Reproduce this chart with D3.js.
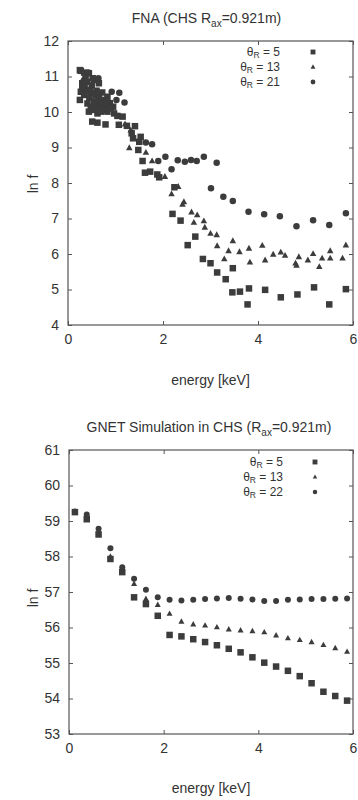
<!DOCTYPE html>
<html><head><meta charset="utf-8">
<script src="https://cdn.jsdelivr.net/npm/d3@7"></script>
<style>
body{margin:0;background:#fff;}
svg{display:block;}
text{font-family:"Liberation Sans",Arial,sans-serif;fill:#333;}
</style></head>
<body><svg id="c" width="358" height="800"></svg>
<script>
// ---------- data: top panel (FNA measurement) ----------
const fnaSquares = [[0.25,11.18],[0.27,11.16],[0.34,11.11],[0.44,11.09],[0.37,10.95],[0.52,10.95],[0.55,10.90],[0.40,10.85],[0.65,10.81],[0.30,10.81],[0.50,10.75],[0.35,10.71],[0.30,10.65],[0.38,10.60],[0.60,10.60],[0.27,10.57],[0.72,10.55],[0.34,10.48],[0.46,10.62],[0.51,10.53],[0.58,10.48],[0.65,10.43],[0.45,10.40],[0.25,10.34],[0.55,10.30],[0.41,10.24],[0.88,10.25],[0.48,10.15],[0.62,10.15],[0.70,10.15],[0.95,10.15],[0.58,10.20],[0.69,10.29],[0.76,10.34],[0.83,10.43],[0.81,10.20],[0.55,10.06],[0.62,9.96],[0.69,10.01],[0.76,10.06],[0.83,10.01],[0.44,10.01],[0.90,10.10],[0.97,9.96],[1.04,9.89],[1.15,9.87],[0.51,9.73],[0.62,9.70],[0.79,9.65],[1.07,9.64],[1.24,9.61],[1.41,9.60],[1.34,9.40],[1.37,9.26],[1.53,9.30],[1.50,9.16],[1.48,8.93],[1.57,8.62],[1.62,8.29],[1.73,8.32],[1.88,8.24],[1.92,8.16],[2.24,7.88],[2.20,7.13],[2.37,6.94],[2.68,6.49],[2.52,6.25],[2.84,5.86],[3.00,5.74],[3.14,5.48],[3.47,5.60],[3.32,5.29],[3.46,4.92],[3.62,4.94],[3.81,5.03],[3.78,4.58],[4.15,4.99],[4.48,4.78],[4.83,4.86],[5.18,5.06],[5.50,4.58],[5.85,5.01]];
const fnaTriangles = [[0.30,10.90],[0.45,10.50],[0.60,10.30],[0.80,10.10],[1.00,9.95],[1.20,9.66],[1.32,9.49],[1.29,8.99],[1.64,8.86],[1.77,8.62],[2.04,8.18],[2.32,7.90],[2.18,7.69],[2.44,7.47],[2.41,7.40],[2.60,7.18],[2.72,7.10],[2.65,6.89],[2.86,6.93],[2.88,6.75],[3.00,6.58],[3.13,6.54],[3.14,6.23],[3.47,6.37],[3.38,6.09],[3.29,5.86],[3.61,6.06],[3.81,6.16],[3.83,5.77],[4.09,6.24],[4.15,5.83],[4.32,5.99],[4.48,6.05],[4.57,5.96],[4.79,5.74],[4.81,5.68],[4.86,5.92],[5.05,5.83],[5.16,6.01],[5.29,5.64],[5.35,5.88],[5.52,5.88],[5.52,6.09],[5.78,5.88],[5.85,6.25]];
const fnaCircles = [[0.43,11.11],[0.64,10.95],[0.92,10.57],[1.08,10.54],[0.81,10.34],[1.02,10.34],[1.19,10.27],[1.64,9.14],[1.77,9.09],[1.90,8.62],[2.05,8.74],[2.18,8.39],[2.31,8.64],[2.46,8.60],[2.59,8.65],[2.71,8.62],[2.86,8.74],[3.13,8.57],[3.01,7.85],[3.27,7.61],[3.47,7.49],[3.80,7.19],[4.13,7.12],[4.46,7.06],[4.81,6.78],[5.16,6.95],[5.50,6.82],[5.85,7.15]];

// ---------- data: bottom panel (GNET simulation) ----------
const gnetEnergy = [0.125,0.375,0.625,0.875,1.125,1.375,1.625,1.875,2.125,2.375,2.625,2.875,3.125,3.375,3.625,3.875,4.125,4.375,4.625,4.875,5.125,5.375,5.625,5.875];
const gnetTheta5  = [59.25,59.05,58.62,57.93,57.56,56.85,56.66,56.33,55.79,55.75,55.67,55.59,55.50,55.40,55.30,55.16,55.01,54.90,54.78,54.63,54.43,54.19,54.07,53.94];
const gnetTheta13 = [59.25,59.12,58.72,58.00,57.67,57.23,56.81,56.64,56.39,56.17,56.09,56.06,56.01,55.95,55.92,55.90,55.87,55.78,55.70,55.65,55.59,55.51,55.42,55.32];
const gnetTheta22 = [59.27,59.18,58.78,58.23,57.70,57.37,57.06,56.85,56.78,56.76,56.78,56.80,56.82,56.83,56.81,56.79,56.75,56.75,56.78,56.79,56.80,56.80,56.81,56.82];

// ---------- labels ----------
const xTicks = [0,2,4,6];
const topYTicks = [4,5,6,7,8,9,10,11,12];
const botYTicks = [53,54,55,56,57,58,59,60,61];
const topLegend = ["5","13","21"];
const botLegend = ["5","13","22"];

const svg = d3.select("#c");
const INK = "#3c3c3c";

function marker(g, type, cx, cy, s){
  if(type==="sq"){
    g.append("rect").attr("x",cx-s/2).attr("y",cy-s/2).attr("width",s).attr("height",s).attr("fill",INK);
  } else if(type==="tri"){
    const h=s*0.9;
    g.append("path").attr("d",`M${cx},${cy-h*0.6}L${cx+s/2},${cy+h*0.4}L${cx-s/2},${cy+h*0.4}Z`).attr("fill",INK);
  } else {
    g.append("circle").attr("cx",cx).attr("cy",cy).attr("r",s/2).attr("fill",INK);
  }
}

function panel(opt){
  const {L,R,T,B,yDom,yTicks,series,legend,legX,legMX,legY,title,titleY,xLabY,yLabY} = opt;
  const x = d3.scaleLinear().domain([0,6]).range([L,R]);
  const y = d3.scaleLinear().domain(yDom).range([B,T]);
  const g = svg.append("g");

  // title
  const t = g.append("text").attr("x",(L+R)/2+ (opt.titleDx||0)).attr("y",titleY).attr("text-anchor","middle").style("font-size","14px");
  t.append("tspan").text(title[0]);
  t.append("tspan").attr("dy",4).style("font-size","10px").text("ax");
  t.append("tspan").attr("dy",-4).text(title[1]);

  // axes (inward ticks on all four sides)
  const ax = g.append("g").attr("transform",`translate(0,${B})`)
    .call(d3.axisBottom(x).tickValues(xTicks).tickFormat(d3.format("d")).tickSizeInner(-4).tickSizeOuter(0).tickPadding(9));
  const at = g.append("g").attr("transform",`translate(0,${T})`)
    .call(d3.axisTop(x).tickValues(xTicks).tickSizeInner(-4).tickSizeOuter(0).tickFormat(""));
  const ay = g.append("g").attr("transform",`translate(${L},0)`)
    .call(d3.axisLeft(y).tickValues(yTicks).tickFormat(d3.format("d")).tickSizeInner(-4).tickSizeOuter(0).tickPadding(9));
  const ar = g.append("g").attr("transform",`translate(${R},0)`)
    .call(d3.axisRight(y).tickValues(yTicks).tickSizeInner(-4).tickSizeOuter(0).tickFormat(""));
  [ax,at,ay,ar].forEach(a=>{
    a.select(".domain").remove();
    a.selectAll(".tick line").attr("stroke","#555");
    a.selectAll("text").style("font-size","14px").style("font-family","'Liberation Sans',Arial,sans-serif").attr("fill","#333");
  });
  ax.selectAll("text").attr("dy","0.71em");
  g.append("rect").attr("x",L).attr("y",T).attr("width",R-L).attr("height",B-T)
    .attr("fill","none").attr("stroke","#555").attr("stroke-width",1.2);

  // axis labels
  g.append("text").attr("x",(L+R)/2).attr("y",xLabY).attr("text-anchor","middle").style("font-size","14px").text("energy [keV]");
  g.append("text").attr("transform",`translate(38,${yLabY}) rotate(-90)`).attr("text-anchor","middle").style("font-size","14px").text("ln f");

  // points
  const pg = g.append("g");
  series.forEach(s=>{
    s.data.forEach(d=>marker(pg,s.type,x(d[0]),y(d[1]),s.size));
  });

  // legend
  legend.forEach((lab,i)=>{
    const yy = legY + i*15;
    const tx = g.append("text").attr("x",legX).attr("y",yy+4).attr("text-anchor","end").style("font-size","12px");
    tx.append("tspan").text("θ");
    tx.append("tspan").attr("dy",2).style("font-size","8.5px").text("R");
    tx.append("tspan").attr("dy",-2).text(" = "+lab);
    marker(g, series[i].type, legMX, yy, series[i].size*0.75);
  });
}

panel({
  L:68,R:353,T:41,B:325,yDom:[4,12],yTicks:topYTicks,
  series:[{type:"sq",data:fnaSquares,size:6.5},{type:"tri",data:fnaTriangles,size:6.5},{type:"ci",data:fnaCircles,size:6.5}],
  legend:topLegend,legX:280,legMX:313,legY:52,
  title:["FNA (CHS R","=0.921m)"],titleY:23,titleDx:-4,xLabY:385,yLabY:184
});

panel({
  L:69,R:353,T:450,B:734,yDom:[53,61],yTicks:botYTicks,
  series:[{type:"sq",data:gnetEnergy.map((e,i)=>[e,gnetTheta5[i]]),size:6.5},
          {type:"tri",data:gnetEnergy.map((e,i)=>[e,gnetTheta13[i]]),size:6},
          {type:"ci",data:gnetEnergy.map((e,i)=>[e,gnetTheta22[i]]),size:6}],
  legend:botLegend,legX:283,legMX:315,legY:462,
  title:["GNET Simulation in CHS (R","=0.921m)"],titleY:432,titleDx:-2,xLabY:793,yLabY:598
});
</script></body></html>
